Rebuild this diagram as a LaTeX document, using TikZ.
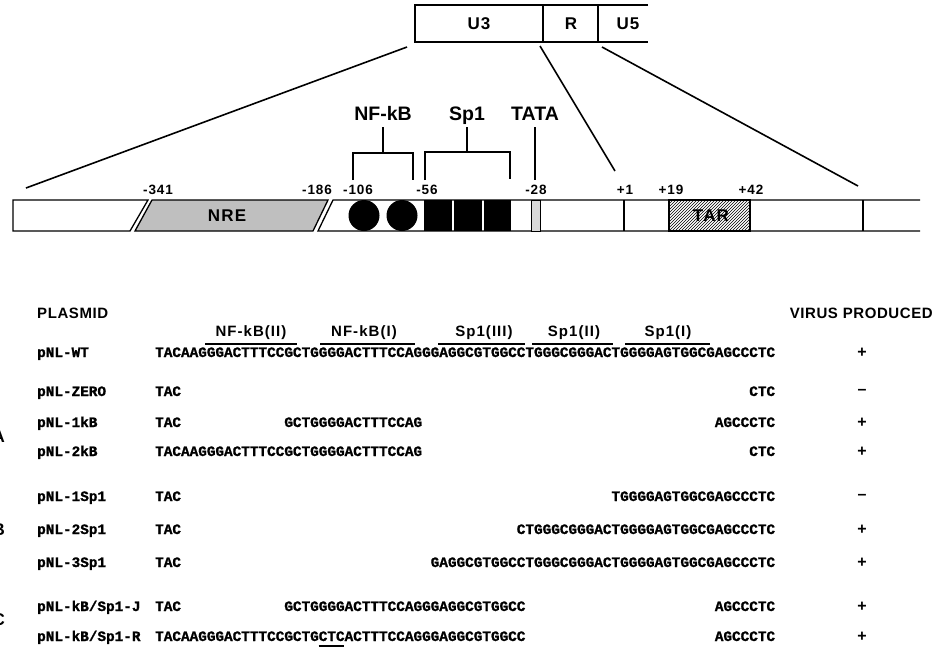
\documentclass[tikz,border=0pt]{standalone}
\usepackage{fontspec}
\setmainfont{Liberation Sans}
\newfontfamily\lsans[LetterSpace=7]{Liberation Sans}
\newfontfamily\msans[LetterSpace=4]{Liberation Sans}
\newfontfamily\seqfont[BoldFeatures={FakeBold=1.2}]{Liberation Mono}
\usetikzlibrary{patterns}
\tikzset{
  box/.style={line width=1.3pt},
  conn/.style={line width=1.6pt},
  br/.style={line width=1.4pt},
  ltrlab/.style={font=\lsans\bfseries\fontsize{17}{19}\selectfont, inner sep=0pt},
  biglab/.style={font=\bfseries\fontsize{19.5}{22}\selectfont, inner sep=0pt, anchor=base},
  numlab/.style={font=\lsans\bfseries\fontsize{13.5}{15}\selectfont, inner sep=0pt, anchor=base},
  inlab/.style={font=\lsans\bfseries\fontsize{17}{19}\selectfont, inner sep=0pt, anchor=base},
  head/.style={font=\msans\bfseries\fontsize{15}{17}\selectfont, inner sep=0pt, anchor=base west},
  site/.style={font=\lsans\bfseries\fontsize{15}{17}\selectfont, inner sep=0pt, anchor=base},
  seq/.style={font=\seqfont\bfseries\fontsize{14.35}{16}\selectfont, inner sep=0pt, anchor=base west},
  res/.style={font=\bfseries\fontsize{16}{18}\selectfont, inner sep=0pt},
  grp/.style={font=\bfseries\fontsize{17}{19}\selectfont, inner sep=0pt, anchor=east},
}
\begin{document}
\begin{tikzpicture}[x=1pt,y=-1pt]
\useasboundingbox (0,0) rectangle (935,651);
\fill[white] (0,0) rectangle (935,651);

% ---------- LTR box ----------
\draw[box] (648,5) -- (415,5) -- (415,42) -- (648,42);
\draw[box] (543,5) -- (543,42);
\draw[box] (598,5) -- (598,42);
\node[ltrlab] (u3) at (479,24) {U3};
\node[ltrlab] (rr) at (571,24) {R};
\node[ltrlab] (u5) at (628,24) {U5};

% ---------- expansion lines ----------
\coordinate (ltrL) at (407,47);
\coordinate (ltrM) at (540,46);
\coordinate (ltrR) at (602,47);
\coordinate (barL) at (26,188);
\coordinate (barM) at (615,171);
\coordinate (barR) at (858,186);
\draw[conn] (ltrL) -- (barL);
\draw[conn] (ltrM) -- (barM);
\draw[conn] (ltrR) -- (barR);

% ---------- bar ----------
\draw[box] (13,200) -- (148,200) -- (130,231) -- (13,231) -- cycle;
\filldraw[box, fill=black!25] (152,200) -- (328,200) -- (313,231) -- (135,231) -- cycle;
\node[inlab] (nre) at (227,221) {NRE};
\draw[box] (920,200) -- (333,200) -- (318,231) -- (920,231);
\fill (364,215.5) circle (15.5);
\fill (402,215.5) circle (15.5);
\fill (424,200) rectangle (452,231);
\fill (454,200) rectangle (482,231);
\fill (484,200) rectangle (511,231);
\filldraw[line width=1pt, fill=black!15] (531,200) rectangle (540,231);
\draw[box] (624,200) -- (624,231);
\draw[box] (863,200) -- (863,231);
\draw[box, pattern=north east lines] (669,200) rectangle (750,231);
\node[inlab] (tar) at (711,221) {TAR};

% ---------- position numbers ----------
\node[numlab] (n341) at (158,194) {-341};
\node[numlab] (n186) at (317,194) {-186};
\node[numlab] (n106) at (358,194) {-106};
\node[numlab] (n56) at (427,194) {-56};
\node[numlab] (n28) at (536,194) {-28};
\node[numlab] (p1) at (625,194) {+1};
\node[numlab] (p19) at (671,194) {+19};
\node[numlab] (p42) at (751,194) {+42};

% ---------- site labels with brackets ----------
\node[biglab] (nfkb) at (383,120) {NF-kB};
\node[biglab] (sp1) at (467,120) {Sp1};
\node[biglab] (tata) at (535,120) {TATA};
\draw[br] ([yshift=-7pt]nfkb.base) -- (383,153);
\draw[br] (353,180) -- (353,153) -- (413,153) -- (413,180);
\draw[br] ([yshift=-7pt]sp1.base) -- (467,152);
\draw[br] (425,180) -- (425,152) -- (510,152) -- (510,179);
\draw[br] ([yshift=-7pt]tata.base) -- (535,180);

% ---------- table header ----------
\node[head] (plasmid) at (37,318.5) {PLASMID};
\node[head, anchor=base east] (virus) at (933,318.5) {VIRUS PRODUCED};

\node[site] (skb2) at (251,336) {NF-kB(II)};
\node[site] (skb1) at (364,336) {NF-kB(I)};
\node[site] (ssp3) at (484,336) {Sp1(III)};
\node[site] (ssp2) at (574,336) {Sp1(II)};
\node[site] (ssp1) at (668,336) {Sp1(I)};
\draw[line width=1.1pt] (205,344) -- (297,344);
\draw[line width=1.1pt] (320,344) -- (415,344);
\draw[line width=1.1pt] (438,344) -- (525,344);
\draw[line width=1.1pt] (532,344) -- (613,344);
\draw[line width=1.1pt] (625,344) -- (710,344);

% ---------- rows ----------
\node[seq] (wtn) at (37,357) {pNL-WT};
\node[seq] (wts) at (155,357) {TACAAGGGACTTTCCGCTGGGGACTTTCCAGGGAGGCGTGGCCTGGGCGGGACTGGGGAGTGGCGAGCCCTC};
\node[res] (wtr) at (862,353) {+};
\node[seq] (zn) at (37,396) {pNL-ZERO};
\node[seq] (zs1) at (155,396) {TAC};
\node[seq] (zs2) at (749.09,396) {CTC};
\node[res] (zr) at (862,392) {\textendash};
\node[seq] (k1n) at (37,427) {pNL-1kB};
\node[seq] (k1s1) at (155,427) {TAC};
\node[seq] (k1s2) at (284.15,427) {GCTGGGGACTTTCCAG};
\node[seq] (k1s3) at (714.65,427) {AGCCCTC};
\node[res] (k1r) at (862,423) {+};
\node[seq] (k2n) at (37,456) {pNL-2kB};
\node[seq] (k2s1) at (155,456) {TACAAGGGACTTTCCGCTGGGGACTTTCCAG};
\node[seq] (k2s2) at (749.09,456) {CTC};
\node[res] (k2r) at (862,452) {+};
\node[seq] (s1n) at (37,501) {pNL-1Sp1};
\node[seq] (s1s1) at (155,501) {TAC};
\node[seq] (s1s2) at (611.33,501) {TGGGGAGTGGCGAGCCCTC};
\node[res] (s1r) at (862,497) {\textendash};
\node[seq] (s2n) at (37,534) {pNL-2Sp1};
\node[seq] (s2s1) at (155,534) {TAC};
\node[seq] (s2s2) at (516.62,534) {CTGGGCGGGACTGGGGAGTGGCGAGCCCTC};
\node[res] (s2r) at (862,530) {+};
\node[seq] (s3n) at (37,567) {pNL-3Sp1};
\node[seq] (s3s1) at (155,567) {TAC};
\node[seq] (s3s2) at (430.52,567) {GAGGCGTGGCCTGGGCGGGACTGGGGAGTGGCGAGCCCTC};
\node[res] (s3r) at (862,563) {+};
\node[seq] (jn) at (37,611) {pNL-kB/Sp1-J};
\node[seq] (js1) at (155,611) {TAC};
\node[seq] (js2) at (284.15,611) {GCTGGGGACTTTCCAGGGAGGCGTGGCC};
\node[seq] (js3) at (714.65,611) {AGCCCTC};
\node[res] (jr) at (862,607) {+};
\node[seq] (rn) at (37,641) {pNL-kB/Sp1-R};
\node[seq] (rs1) at (155,641) {TACAAGGGACTTTCCGCTGCTCACTTTCCAGGGAGGCGTGGCC};
\node[seq] (rs2) at (714.65,641) {AGCCCTC};
\node[res] (rr2) at (862,637) {+};
\draw[br] (318.6,646) -- (344.4,646);

% ---------- group letters (cut at the left edge, as in the reference) ----------
\node[grp] (ga) at (5,437) {A};
\node[grp] (gb) at (5,530) {B};
\node[grp] (gc) at (5,620) {C};
\end{tikzpicture}
\end{document}
